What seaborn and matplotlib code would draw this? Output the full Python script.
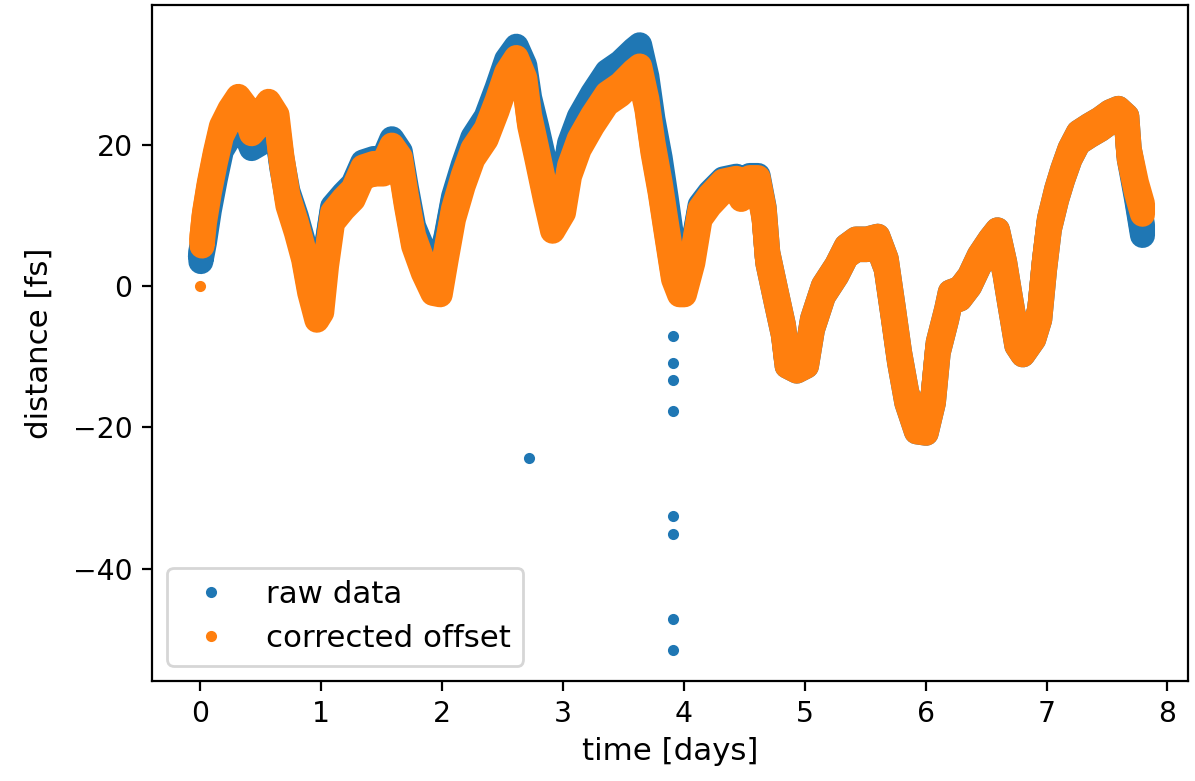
import numpy as np
import pandas as pd
import matplotlib
matplotlib.use("Agg")
import matplotlib.pyplot as plt
import seaborn as sns

# ---- data ----
t_corr = [0.01, 0.03, 0.07, 0.12, 0.17, 0.24, 0.31, 0.38, 0.42, 0.49,
          0.56, 0.63, 0.67, 0.72, 0.79, 0.85, 0.90, 0.96, 1.00, 1.04,
          1.09, 1.18, 1.26, 1.34, 1.43, 1.51, 1.58, 1.65, 1.70, 1.76,
          1.84, 1.92, 1.98, 2.03, 2.09, 2.17, 2.25, 2.36, 2.45, 2.53,
          2.61, 2.68, 2.72, 2.78, 2.85, 2.91, 3.00, 3.05, 3.13, 3.24,
          3.36, 3.47, 3.58, 3.63, 3.69, 3.74, 3.80, 3.85, 3.91, 3.96,
          4.00, 4.07, 4.13, 4.21, 4.32, 4.43, 4.47, 4.54, 4.61, 4.66,
          4.69, 4.76, 4.82, 4.85, 4.93, 5.01, 5.06, 5.15, 5.26, 5.34,
          5.42, 5.51, 5.60, 5.67, 5.73, 5.78, 5.84, 5.92, 6.00, 6.06,
          6.10, 6.17, 6.20, 6.28, 6.36, 6.44, 6.53, 6.59, 6.65, 6.69,
          6.75, 6.80, 6.89, 6.94, 6.98, 7.02, 7.08, 7.13, 7.19, 7.26,
          7.35, 7.44, 7.52, 7.59, 7.66, 7.68, 7.74, 7.79]
y_corr = [6.5, 9.8, 14.0, 18.3, 22.0, 24.4, 26.2, 24.6, 22.4, 23.8,
          25.5, 23.6, 17.8, 12.2, 8.4, 4.6, -0.1, -4.0, -2.9, 3.7,
          9.8, 11.7, 13.1, 16.2, 16.7, 16.7, 19.3, 17.6, 12.2, 6.5,
          2.7, -0.2, -0.4, 4.6, 10.3, 15.0, 18.8, 21.6, 25.6, 29.6,
          31.7, 28.8, 23.5, 18.8, 13.1, 8.6, 11.2, 16.4, 20.2, 23.5,
          26.6, 27.9, 29.8, 30.5, 25.8, 19.7, 14.0, 8.4, 1.8, -0.4,
          -0.4, 4.1, 10.3, 12.2, 14.2, 14.6, 13.1, 14.7, 14.7, 10.3,
          4.1, -1.5, -6.2, -10.5, -11.2, -10.5, -5.3, -0.6, 2.3, 5.0,
          6.0, 6.0, 6.4, 3.2, -3.9, -10.0, -15.7, -19.8, -20.0, -15.7,
          -8.6, -3.9, -1.5, -1.0, 0.8, 3.7, 6.0, 7.3, 2.7, -1.5,
          -7.6, -8.9, -6.7, -3.9, 3.2, 8.9, 13.1, 15.9, 18.8, 21.1,
          22.1, 23.0, 24.0, 24.5, 23.4, 18.8, 14.0, 11.0]

t_raw = [0.00, 0.03, 0.07, 0.12, 0.17, 0.24, 0.31, 0.38, 0.42, 0.49,
         0.56, 0.63, 0.67, 0.72, 0.79, 0.85, 0.90, 0.96, 1.00, 1.04,
         1.09, 1.18, 1.26, 1.34, 1.43, 1.51, 1.58, 1.65, 1.70, 1.76,
         1.84, 1.92, 1.98, 2.03, 2.09, 2.17, 2.25, 2.36, 2.45, 2.53,
         2.61, 2.68, 2.72, 2.78, 2.85, 2.91, 3.00, 3.05, 3.13, 3.24,
         3.36, 3.47, 3.58, 3.63, 3.69, 3.74, 3.80, 3.85, 3.91, 3.96,
         4.00, 4.07, 4.13, 4.21, 4.32, 4.43, 4.47, 4.54, 4.61, 4.66,
         4.69, 4.76, 4.82, 4.85, 4.93, 5.01, 5.06, 5.15, 5.26, 5.34,
         5.42, 5.51, 5.60, 5.67, 5.73, 5.78, 5.84, 5.92, 6.00, 6.06,
         6.10, 6.17, 6.20, 6.28, 6.36, 6.44, 6.53, 6.59, 6.65, 6.69,
         6.75, 6.80, 6.89, 6.94, 6.98, 7.02, 7.08, 7.13, 7.19, 7.26,
         7.35, 7.44, 7.52, 7.59, 7.66, 7.68, 7.74, 7.79]
y_raw = [4.3, 7.0, 11.5, 16.0, 20.0, 22.0, 23.6, 22.0, 20.3, 21.0,
         22.2, 22.5, 17.5, 12.8, 9.2, 5.5, 1.2, -2.0, -0.5, 5.0,
         10.6, 12.4, 13.8, 16.9, 17.4, 17.4, 20.2, 18.4, 13.3, 7.8,
         4.5, 3.0, 3.0, 6.5, 12.0, 16.5, 20.4, 23.3, 27.4, 31.4,
         33.3, 30.6, 26.0, 21.8, 16.5, 12.6, 14.5, 19.6, 23.3, 26.6,
         29.7, 31.0, 32.8, 33.5, 29.0, 23.0, 17.5, 11.8, 4.5, 3.0,
         2.2, 5.0, 10.8, 12.6, 14.5, 14.9, 13.4, 15.0, 15.0, 10.5,
         4.1, -1.5, -6.2, -10.5, -11.2, -10.5, -5.3, -0.6, 2.3, 5.0,
         6.0, 6.0, 6.4, 3.2, -3.9, -10.0, -15.7, -19.8, -20.0, -15.7,
         -8.6, -3.9, -1.5, -1.0, 0.8, 3.7, 6.0, 7.3, 2.7, -1.5,
         -7.6, -8.9, -6.7, -3.9, 3.2, 8.9, 13.1, 15.9, 18.8, 21.1,
         22.1, 23.0, 24.0, 24.5, 23.4, 18.8, 13.2, 8.0]

# isolated raw-data outliers
t_raw_out = [2.72, 3.91, 3.91, 3.91, 3.91, 3.91, 3.91, 3.91, 3.91, 7.77, 7.79]
y_raw_out = [-24.3, -7.1, -10.9, -13.3, -17.7, -32.5, -35.1, -47.1, -51.5, 8.4, 6.7]

# isolated corrected point at the start
t_corr_pt = [0.0]
y_corr_pt = [0.0]

xticks = [0, 1, 2, 3, 4, 5, 6, 7, 8]
yticks = [-40, -20, 0, 20]

# ---- style ----
BLUE = "#1f77b4"
ORANGE = "#ff7f0e"
BAND_LW = 9.0      # stroke width of the dense point cloud (pt)
BAND_HALF = 0.75   # extra vertical half-spread of the cloud (data units)
TICK_FS = 10.2
LABEL_FS = 11.1

plt.rcParams["font.family"] = ["DejaVu Sans"]
plt.rcParams["font.size"] = 10

fig = plt.figure(figsize=(5.975, 3.905), dpi=200)
ax = fig.add_axes([0.1272, 0.128, 0.8669, 0.8655])

df_raw = pd.DataFrame({"t": t_raw, "y": y_raw})
df_corr = pd.DataFrame({"t": t_corr, "y": y_corr})

def band(df, color, z):
    sns.lineplot(data=df, x="t", y="y", ax=ax, color=color, lw=BAND_LW,
                 sort=False, estimator=None, legend=False, zorder=z,
                 solid_capstyle="round", solid_joinstyle="round")
    fb = ax.fill_between(df["t"], df["y"] - BAND_HALF, df["y"] + BAND_HALF,
                         facecolor=color, edgecolor=color, lw=BAND_LW, zorder=z)
    fb.set_joinstyle("round")
    fb.set_capstyle("round")

band(df_raw, BLUE, 2)
ax.plot(t_raw_out, y_raw_out, ".", color=BLUE, label="raw data", zorder=2)
band(df_corr, ORANGE, 3)
ax.plot(t_corr_pt, y_corr_pt, ".", color=ORANGE, label="corrected offset", zorder=3)

ax.set_xlim(-0.40, 8.17)
ax.set_ylim(-55.9, 39.8)
ax.set_xticks(xticks)
ax.set_yticks(yticks)
ax.tick_params(labelsize=TICK_FS)
ax.set_xlabel("time [days]", fontsize=LABEL_FS, labelpad=3)
ax.set_ylabel("distance [fs]", fontsize=LABEL_FS, labelpad=7)
ax.legend(loc="lower left", fontsize=LABEL_FS)

fig.savefig("out.png", dpi=200)
